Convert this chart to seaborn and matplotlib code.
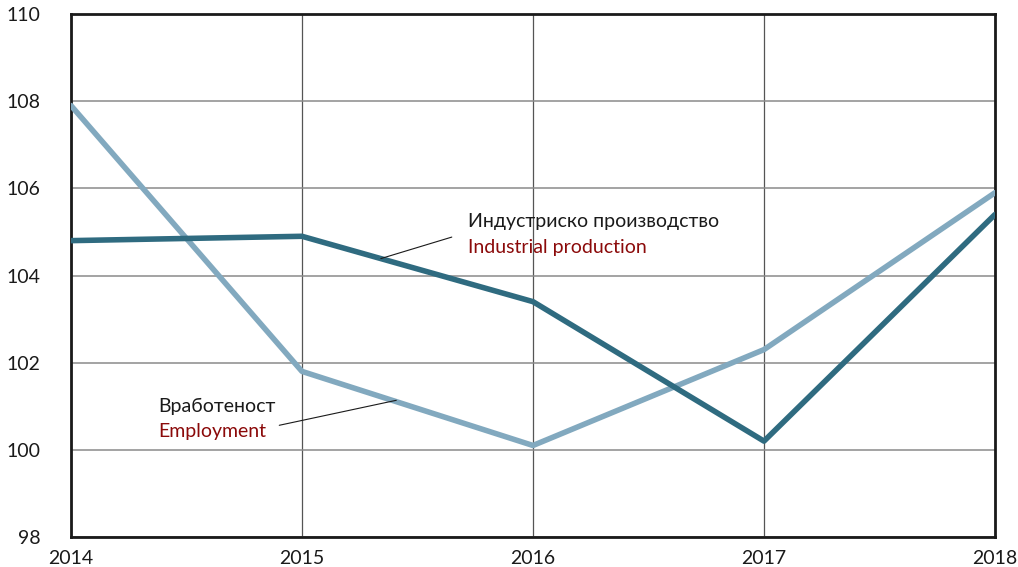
import matplotlib.pyplot as plt
import seaborn as sns
import pandas as pd

# Data
years = [2014, 2015, 2016, 2017, 2018]
industrial = [104.8, 104.9, 103.4, 100.2, 105.4]
employment = [107.9, 101.8, 100.1, 102.3, 105.9]

df = pd.DataFrame({
    'year': years * 2,
    'value': industrial + employment,
    'series': ['Industrial production'] * 5 + ['Employment'] * 5,
})

sns.set_style("white")
plt.rcParams['font.family'] = ['Lato', 'DejaVu Sans']

fig = plt.figure(figsize=(10.18, 5.67), dpi=100)
ax = fig.add_axes([0.0697, 0.0529, 0.9077, 0.9224])

palette = {'Industrial production': '#2f6b80', 'Employment': '#82a9bf'}
sns.lineplot(data=df, x='year', y='value', hue='series', palette=palette,
             hue_order=['Employment', 'Industrial production'],
             linewidth=4, legend=False, ax=ax, zorder=3)

ax.set_xlim(2014, 2018)
ax.set_ylim(98, 110)
ax.set_xticks(years)
ax.set_yticks(range(98, 111, 2))
ax.set_xlabel('')
ax.set_ylabel('')
ax.grid(True, axis='y', color='#8a8a8a', linewidth=1.1)
ax.grid(True, axis='x', color='#555555', linewidth=0.9)
for s in ax.spines.values():
    s.set_color('#1a1a1a')
    s.set_linewidth(2)
ax.tick_params(axis='y', length=0, pad=22, labelsize=14, colors='#1a1a1a')
ax.tick_params(axis='x', length=0, pad=9, labelsize=14, colors='#1a1a1a')

# Callouts
ax.annotate('', xy=(2015.33, 104.37), xytext=(2015.66, 104.9),
            arrowprops=dict(arrowstyle='-', color='#1a1a1a', lw=0.8))
ax.text(2015.72, 105.25, 'Индустриско производство', fontsize=14,
        color='#1a1a1a', va='center', ha='left')
ax.text(2015.72, 104.65, 'Industrial production', fontsize=14,
        color='#8b0a0a', va='center', ha='left')

ax.annotate('', xy=(2015.42, 101.15), xytext=(2014.89, 100.55),
            arrowprops=dict(arrowstyle='-', color='#1a1a1a', lw=0.8))
ax.text(2014.38, 101.0, 'Вработеност', fontsize=14,
        color='#1a1a1a', va='center', ha='left')
ax.text(2014.38, 100.42, 'Employment', fontsize=14,
        color='#8b0a0a', va='center', ha='left')

fig.savefig('out.png', dpi=100)
